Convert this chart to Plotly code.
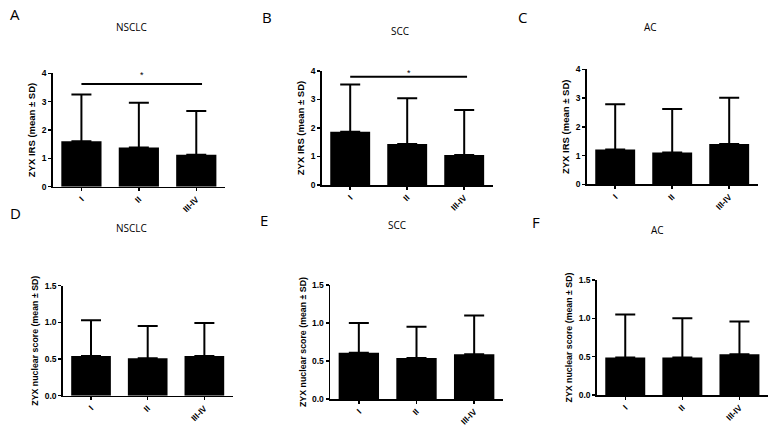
import plotly.graph_objects as go

categories = ["I", "II", "III-IV"]

irs_nsclc_mean = [1.60, 1.38, 1.13]
irs_nsclc_sd = [1.65, 1.58, 1.54]
irs_scc_mean = [1.87, 1.44, 1.05]
irs_scc_sd = [1.66, 1.60, 1.58]
irs_ac_mean = [1.21, 1.11, 1.40]
irs_ac_sd = [1.57, 1.51, 1.61]

nuc_nsclc_mean = [0.54, 0.51, 0.54]
nuc_nsclc_sd = [0.49, 0.44, 0.45]
nuc_scc_mean = [0.61, 0.54, 0.59]
nuc_scc_sd = [0.39, 0.41, 0.51]
nuc_ac_mean = [0.49, 0.49, 0.53]
nuc_ac_sd = [0.56, 0.51, 0.43]

panel_letters = ["A", "B", "C", "D", "E", "F"]
panel_titles = ["NSCLC", "SCC", "AC", "NSCLC", "SCC", "AC"]
y_titles = ["ZYX IRS (mean ± SD)"] * 3 + ["ZYX nuclear score (mean ± SD)"] * 3

# significance brackets
sig_panels = [0, 1]
sig_levels = [3.62, 3.80]
sig_from = [0, 0]
sig_to = [2.1, 2.05]
sig_star_y = [3.94, 3.92]

W, H = 775, 428
# panel geometry in window pixels: (left, right, top, bottom)
boxes = [
    (52.7, 225.0, 73.3, 186.7),
    (321.7, 492.7, 71.0, 185.0),
    (586.7, 757.7, 69.3, 184.3),
    (62.7, 232.7, 285.7, 395.7),
    (330.0, 503.0, 285.0, 399.0),
    (596.7, 768.0, 280.0, 395.0),
]
letter_pos = [(8, 14), (260, 17), (516, 17), (8, 213), (258, 220), (530, 222)]
title_pos = [(131, 27), (400, 31), (650, 27), (131, 228), (397, 225), (657, 230)]

means = [irs_nsclc_mean, irs_scc_mean, irs_ac_mean, nuc_nsclc_mean, nuc_scc_mean, nuc_ac_mean]
sds = [irs_nsclc_sd, irs_scc_sd, irs_ac_sd, nuc_nsclc_sd, nuc_scc_sd, nuc_ac_sd]


def px(x):
    return min(1.0, max(0.0, x / W))


def py(y):
    return min(1.0, max(0.0, 1 - y / H))


fig = go.Figure()
layout = dict(
    width=W, height=H, margin=dict(l=0, r=0, t=0, b=0, autoexpand=False),
    paper_bgcolor="white", plot_bgcolor="white", showlegend=False,
    annotations=[], shapes=[],
)

tickfont = dict(family="Liberation Sans, Arial", size=8.5, color="black", weight="bold")

for i in range(6):
    n = i + 1
    xs = "x" if n == 1 else f"x{n}"
    ys = "y" if n == 1 else f"y{n}"
    fig.add_trace(go.Bar(
        x=[0, 1, 2], y=means[i], width=0.7, marker=dict(color="black", line=dict(width=0)),
        error_y=dict(type="data", symmetric=False, array=sds[i], arrayminus=[0, 0, 0],
                     color="black", thickness=2, width=10),
        xaxis=xs, yaxis=ys, hoverinfo="skip",
    ))
    l, r, t, b = boxes[i]
    top_row = i < 3
    layout[f"xaxis{n if n > 1 else ''}"] = dict(
        domain=[px(l), px(r)], anchor=ys, range=[-0.5, 2.5], automargin=False,
        tickmode="array", tickvals=[0, 1, 2], ticktext=categories, tickangle=-45,
        showline=True, linecolor="black", linewidth=1.5, ticks="outside", ticklen=3,
        tickwidth=1.5, tickcolor="black", showgrid=False, zeroline=False, tickfont=tickfont,
        fixedrange=True,
    )
    layout[f"yaxis{n if n > 1 else ''}"] = dict(
        domain=[py(b), py(t)], anchor=xs, automargin=False,
        range=[0, 4] if top_row else [0, 1.5], dtick=1 if top_row else 0.5,
        tickformat="d" if top_row else ".1f",
        showline=True, linecolor="black", linewidth=1.5, ticks="outside", ticklen=3,
        tickwidth=1.5, tickcolor="black", showgrid=False, zeroline=False, tickfont=tickfont,
        title=dict(text=y_titles[i], standoff=4,
                   font=dict(family="Liberation Sans, Arial", size=9.5 if top_row else 8.8,
                             color="black", weight="bold")),
        fixedrange=True,
    )
    lx, ly = letter_pos[i]
    layout["annotations"].append(dict(
        text=panel_letters[i], x=px(lx), y=py(ly), xref="paper", yref="paper",
        xanchor="left", yanchor="middle", showarrow=False,
        font=dict(family="Open Sans", size=15, color="black")))
    tx, ty = title_pos[i]
    layout["annotations"].append(dict(
        text=panel_titles[i], x=px(tx), y=py(ty), xref="paper", yref="paper",
        xanchor="center", yanchor="middle", showarrow=False,
        font=dict(family="Open Sans", size=10, color="black")))

for k, p in enumerate(sig_panels):
    n = p + 1
    xs = "x" if n == 1 else f"x{n}"
    ys = "y" if n == 1 else f"y{n}"
    layout["shapes"].append(dict(
        type="line", xref=xs, yref=ys, x0=sig_from[k], x1=sig_to[k],
        y0=sig_levels[k], y1=sig_levels[k], line=dict(color="black", width=2)))
    layout["annotations"].append(dict(
        text="*", x=(sig_from[k] + sig_to[k]) / 2, y=sig_star_y[k], xref=xs, yref=ys,
        showarrow=False, xanchor="center", yanchor="middle",
        font=dict(family="Liberation Sans, Arial", size=9, color="black")))

fig.update_layout(**layout)
# remove the default 8px page margin so the figure sits at the window's top-left corner
fig.write_html("out.html", config={"displayModeBar": False, "staticPlot": True},
               post_script="document.body.style.margin='0';document.body.style.overflow='hidden';")
